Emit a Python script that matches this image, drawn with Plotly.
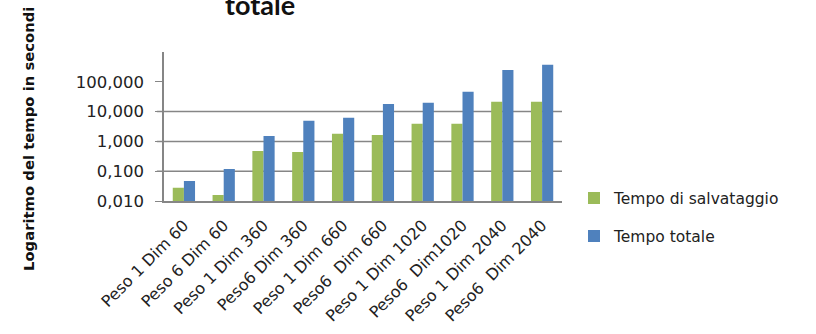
import plotly.graph_objects as go

categories = ["Peso 1 Dim 60", "Peso 6 Dim 60", "Peso 1 Dim 360", "Peso6 Dim 360",
              "Peso 1 Dim 660", "Peso6\u00a0 Dim 660", "Peso 1 Dim 1020", "Peso6\u00a0 Dim1020",
              "Peso 1 Dim 2040", "Peso6\u00a0 Dim 2040"]
tempo_salvataggio = [0.028, 0.016, 0.48, 0.44, 1.79, 1.65, 3.9, 3.9, 21.3, 21.3]
tempo_totale = [0.047, 0.119, 1.53, 4.9, 6.2, 18.0, 19.7, 46.0, 250.0, 370.0]
tick_vals = [0.01, 0.1, 1, 10, 100]
tick_text = ["0,010", "0,100", "1,000", "10,000", "100,000"]
grid_vals = [0.1, 1, 10]

FONT = "DejaVu Sans"

fig = go.Figure()
fig.add_trace(go.Bar(x=categories, y=tempo_salvataggio, name="Tempo di salvataggio",
                     legendgroup="a",
                     marker=dict(color="#9BBB59", line=dict(width=0))))
fig.add_trace(go.Bar(x=categories, y=tempo_totale, name="Tempo totale",
                     legendgroup="b",
                     marker=dict(color="#4F81BD", line=dict(width=0))))

for g in grid_vals:
    fig.add_shape(type="line", xref="paper", yref="y", x0=-0.018, x1=1, y0=g, y1=g,
                  line=dict(color="#868686", width=1.5), layer="below")

L, T, PW, PH = 164, 52, 398, 149

fig.update_layout(
    width=816, height=334,
    margin=dict(l=L, r=816 - L - PW, t=T, b=334 - T - PH, autoexpand=False),
    paper_bgcolor="white", plot_bgcolor="white",
    barmode="group", bargap=0.44, bargroupgap=0,
    showlegend=True,
    legend=dict(x=(574 - L) / PW, y=-0.11, xanchor="left", yanchor="middle",
                font=dict(family=FONT, size=15.5, color="#222"),
                itemwidth=30, tracegroupgap=15, traceorder="grouped"),
    font=dict(family=FONT, color="#222"),
)
fig.update_yaxes(type="log", range=[-2, 3], tickvals=tick_vals, ticktext=tick_text,
                 showgrid=False, showline=True, linecolor="#868686", linewidth=1.5,
                 ticks="outside", ticklen=7, tickcolor="#868686", automargin=False,
                 ticklabelstandoff=8,
                 tickfont=dict(family=FONT, size=16.5, color="#222"),
                 zeroline=False)
fig.update_xaxes(showline=True, linecolor="#868686", linewidth=1.5, showgrid=False,
                 tickangle=-45, ticks="", automargin=False, ticklabelstandoff=7,
                 tickfont=dict(family=FONT, size=16, color="#222"))
fig.add_annotation(text="<b>Logaritmo del tempo in secondi</b>", textangle=-90,
                   xref="paper", yref="paper",
                   x=(28 - L) / PW, y=(T + PH - 139) / PH, xanchor="center", yanchor="middle",
                   showarrow=False, font=dict(family=FONT, size=14.8, color="#111"))
fig.add_annotation(text="<b>totale</b>", xref="paper", yref="paper",
                   x=(260 - L) / PW, y=(T + PH - 4) / PH, xanchor="center", yanchor="middle",
                   showarrow=False, font=dict(family="Lato", size=27, color="#111"))

fig.write_html("out.html", post_script="document.body.style.margin='0';",
               config={"displayModeBar": False})
